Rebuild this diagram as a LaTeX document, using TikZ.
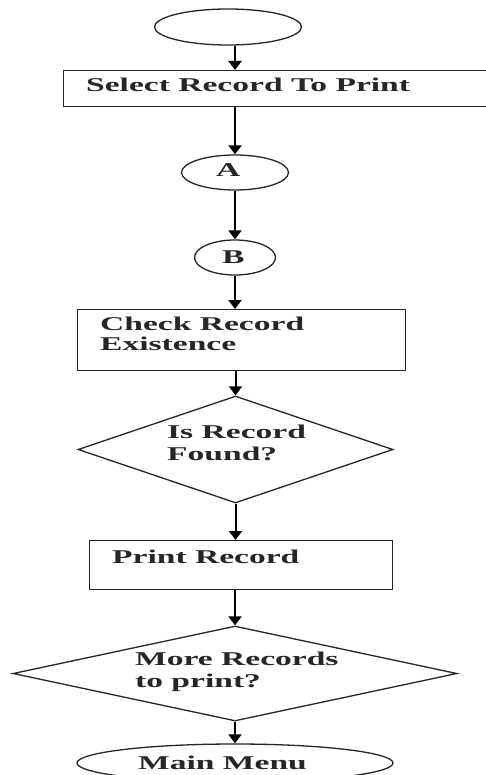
\documentclass[tikz,border=0pt]{standalone}
\usepackage{fontspec}
\usetikzlibrary{shapes.geometric,arrows.meta}
\newfontfamily\wf[FakeStretch=1.72]{Liberation Serif Bold}
\begin{document}
\begin{tikzpicture}[x=1pt,y=-1pt,
  shp/.style={draw=black!85, line width=1.3pt, inner sep=0pt},
  arr/.style={-{Triangle[width=13pt,length=9pt]}, line width=2pt},
  txt/.style={font=\wf\fontsize{19.5}{21}\selectfont, anchor=base west, inner sep=0pt, text=black!85}]
\useasboundingbox (0,0) rectangle (486,775);
\fill[white] (0,0) rectangle (486,775);
\clip (0,0) rectangle (486,775);
% shapes
\node[shp, ellipse, minimum width=147pt, minimum height=36pt] (start) at (228,27) {};
\node[shp, rectangle, minimum width=440pt, minimum height=36pt, anchor=north west] (sel) at (63,70) {};
\node[txt] (selt) at (86,92) {Select Record To Print};
\node[shp, ellipse, minimum width=107pt, minimum height=35pt] (a) at (235,172.5) {};
\node[txt] (at) at (216,177) {A};
\node[shp, ellipse, minimum width=81pt, minimum height=35pt] (b) at (235,257.5) {};
\node[txt] (bt) at (222,263) {B};
\node[shp, rectangle, minimum width=328pt, minimum height=61pt, anchor=north west] (chk) at (77,309) {};
\node[txt] (chk1) at (100,330) {Check Record};
\node[txt] (chk2) at (100,350) {Existence};
\node[shp, diamond, aspect=2.94, minimum width=315pt, minimum height=107pt] (d1) at (235.5,449.5) {};
\node[txt] (d1a) at (167,438) {Is Record};
\node[txt] (d1b) at (167,460) {Found?};
\node[shp, rectangle, minimum width=303pt, minimum height=49pt, anchor=north west] (pr) at (89,540) {};
\node[txt] (prt) at (112,563) {Print Record};
\node[shp, diamond, aspect=4.67, minimum width=444pt, minimum height=95pt] (d2) at (235,673.5) {};
\node[txt] (d2a) at (135,665) {More Records};
\node[txt] (d2b) at (135,687) {to print?};
\node[shp, ellipse, minimum width=316pt, minimum height=38pt] (mm) at (235,763) {};
\node[txt] (mmt) at (138,769) {Main Menu};
% connectors
\draw[arr] (a.north |- start.south) -- (a.north |- sel.north);
\draw[arr] (a.north |- sel.south) -- (a.north);
\draw[arr] (a.south) -- (b.north);
\draw[arr] (b.south) -- (b.south |- chk.north);
\draw[arr] (d1.north |- chk.south) -- (d1.north);
\draw[arr] (d1.south) -- (d1.south |- pr.north);
\draw[arr] (d2.north |- pr.south) -- (d2.north);
\draw[arr] (d2.south) -- (mm.north);
\end{tikzpicture}
\end{document}
